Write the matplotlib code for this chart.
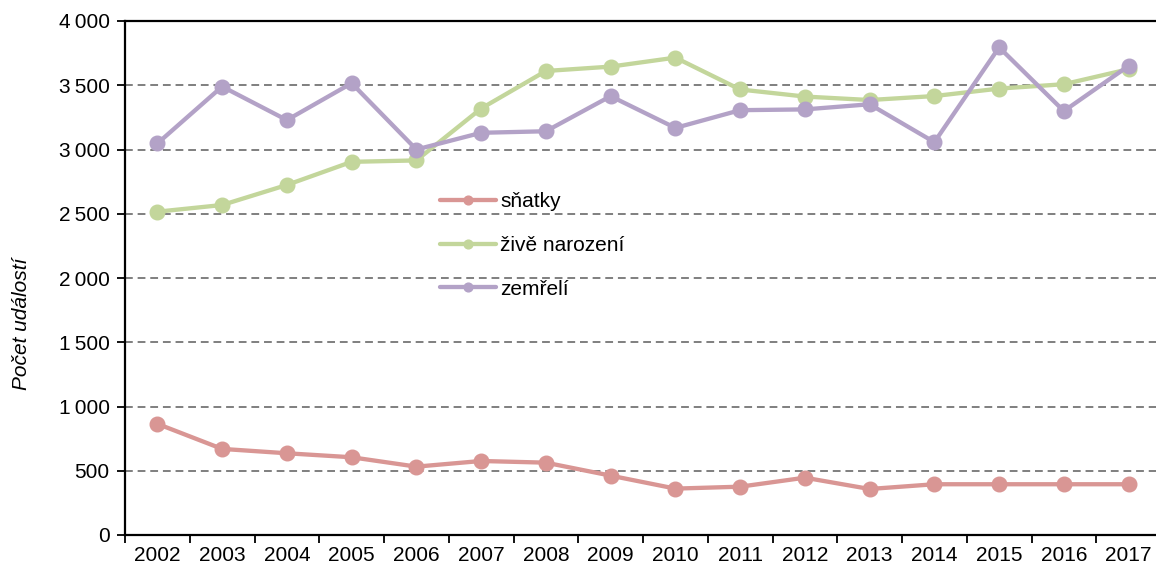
import numpy as np
import matplotlib
matplotlib.use('Agg')
import matplotlib.pyplot as plt
from matplotlib.ticker import FuncFormatter, FixedLocator

plt.rcParams['font.family'] = ['Liberation Sans', 'DejaVu Sans']

# data
years = ['2002', '2003', '2004', '2005', '2006', '2007', '2008', '2009',
         '2010', '2011', '2012', '2013', '2014', '2015', '2016', '2017']
snatky = [865, 670, 636, 605, 532, 576, 563, 462, 361, 376, 446, 358, 395, 395, 395, 395]
zive_narozeni = [2516, 2568, 2724, 2904, 2915, 3319, 3611, 3645, 3715, 3467,
                 3412, 3385, 3416, 3474, 3508, 3625]
zemreli = [3047, 3490, 3229, 3516, 3000, 3130, 3142, 3415, 3168, 3306,
           3312, 3352, 3057, 3795, 3299, 3651]

series = [
    ('sňatky', snatky, '#D99694'),
    ('živě narození', zive_narozeni, '#C3D69B'),
    ('zemřelí', zemreli, '#B3A2C7'),
]

fig = plt.figure(figsize=(11.56, 5.70), dpi=100)
ax = fig.add_axes([125 / 1156, 1 - 535 / 570, 1036 / 1156, 514 / 570])

x = np.arange(len(years))
for label, vals, col in series:
    ax.plot(x, vals, color=col, lw=3.1, marker='o', markersize=10.5,
            label=label, solid_capstyle='round', zorder=3)

ax.set_xlim(-0.5, len(years) - 0.5)
ax.set_ylim(0, 4000)
ax.set_yticks(np.arange(0, 4001, 500))
ax.yaxis.set_major_formatter(FuncFormatter(
    lambda v, p: f'{int(v):,}'.replace(',', '\u2009')))
for v in range(500, 4001, 500):
    ax.axhline(v, color='#7f7f7f', lw=1.4, ls=(0, (4, 2.5)), zorder=1)

ax.set_xticks(x)
ax.set_xticklabels(years)
ax.xaxis.set_minor_locator(FixedLocator(np.arange(-0.5, len(years), 1)))
ax.tick_params(axis='x', which='major', length=0, pad=8, labelsize=15)
ax.tick_params(axis='x', which='minor', length=6, width=1.3, direction='out')
ax.tick_params(axis='y', length=6, width=1.3, direction='out', pad=5, labelsize=15)

for s in ['left', 'bottom', 'top']:
    ax.spines[s].set_linewidth(1.6)
    ax.spines[s].set_color('black')
ax.spines['right'].set_visible(False)

ax.set_ylabel('Počet událostí', fontsize=15, style='italic')
ax.yaxis.set_label_coords(-0.091, 0.41)

ax.legend(loc='upper left', bbox_to_anchor=(0.286, 0.703), frameon=False,
          fontsize=15, handlelength=2.7, handletextpad=0.2, labelspacing=1.18,
          markerscale=0.6)

fig.savefig('out.png', dpi=100)
